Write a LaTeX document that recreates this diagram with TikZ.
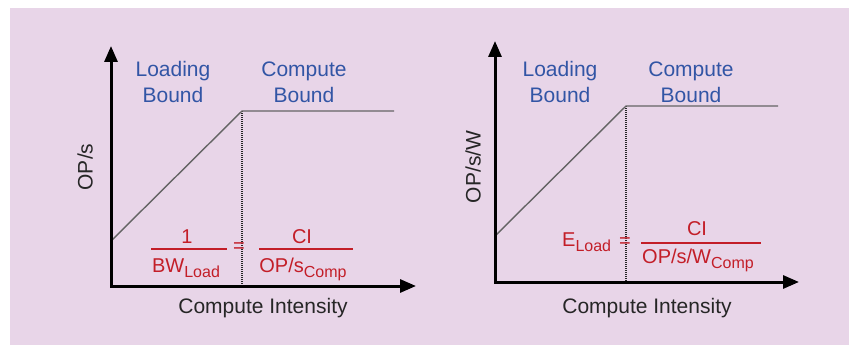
\documentclass[tikz,border=0pt]{standalone}
\usepackage{fontspec}
\setmainfont{Liberation Sans}
\usetikzlibrary{positioning,arrows.meta}
\definecolor{panelpink}{RGB}{232,213,232}
\definecolor{labelblue}{RGB}{50,85,165}
\definecolor{eqred}{RGB}{195,30,40}
\definecolor{curvegray}{RGB}{100,100,100}
\newcommand{\subtxt}[1]{\raisebox{-5pt}{\fontsize{16}{16}\selectfont #1}}

\begin{document}
\begin{tikzpicture}[
  x=1pt, y=-1pt,
  font=\fontsize{21}{26}\selectfont,
  axis/.style={line width=3pt, {Triangle[length=16pt,width=13pt]}-{Triangle[length=16pt,width=13pt]}},
  roof/.style={line width=1.4pt, curvegray},
  ridge/.style={dash pattern=on 1pt off 1pt, line width=1.3pt, black!85},
  region/.style={text=labelblue, align=center, inner sep=0pt},
  axlabel/.style={text=black!85, inner sep=0pt},
  eq/.style={text=eqred, font=\fontsize{20}{22}\selectfont, inner sep=0pt},
  bar/.style={eqred, line width=1.5pt},
]
% Frame
\useasboundingbox (0,0) rectangle (849,345);
\fill[panelpink] (10,8) rectangle (849,345);

% Left chart: OP/s
\coordinate (yt1) at (111,46);
\coordinate (o1) at (111,286);
\coordinate (xt1) at (416,286);
\coordinate (r1) at (111,241);
\coordinate (knee1) at (242,111);
\coordinate (flat1) at (394,111);
\coordinate (foot1) at (242,286);
\draw[ridge] (knee1) -- (foot1);
\draw[roof] (r1) -- (knee1) -- (flat1);
\draw[axis] (yt1) -- (o1) -- (xt1);

\node[region] (load1) at (173,82) {Loading\\Bound};
\node[region] (comp1) at (304,82) {Compute\\Bound};
\node[axlabel, rotate=90] (ylab1) at (85,167) {OP/s};
\node[axlabel] (xlab1) at (263,308) {Compute Intensity};

\node[eq, anchor=base] (one1) at (187,243) {1};
\coordinate (bl1) at (151,249);
\coordinate (br1) at (227,249);
\draw[bar] (bl1) -- (br1);
\node[eq, anchor=base] (bw1) at (186,272) {BW\subtxt{Load}};
\node[eq] (eqs1) at (239,248) {=};
\node[eq, anchor=base] (ci1) at (302,243) {CI};
\coordinate (cl1) at (259,249);
\coordinate (cr1) at (353,249);
\draw[bar] (cl1) -- (cr1);
\node[eq, anchor=base] (ops1) at (303,272) {OP/s\subtxt{Comp}};

% Right chart: OP/s/W
\coordinate (yt2) at (495,41);
\coordinate (o2) at (495,282);
\coordinate (xt2) at (799,282);
\coordinate (r2) at (495,236);
\coordinate (knee2) at (626,106);
\coordinate (flat2) at (778,106);
\coordinate (foot2) at (626,282);
\draw[ridge] (knee2) -- (foot2);
\draw[roof] (r2) -- (knee2) -- (flat2);
\draw[axis] (yt2) -- (o2) -- (xt2);

\node[region] (load2) at (560,82) {Loading\\Bound};
\node[region] (comp2) at (691,82) {Compute\\Bound};
\node[axlabel, rotate=90] (ylab2) at (473,167) {OP/s/W};
\node[axlabel] (xlab2) at (647,308) {Compute Intensity};

\node[eq, anchor=base west] (eld2) at (562,246) {E\subtxt{Load}};
\node[eq] (eqs2) at (625,243) {=};
\node[eq, anchor=base] (ci2) at (697,235) {CI};
\coordinate (cl2) at (641,243);
\coordinate (cr2) at (761,243);
\draw[bar] (cl2) -- (cr2);
\node[eq, anchor=base] (opw2) at (698,263) {OP/s/W\subtxt{Comp}};
\end{tikzpicture}
\end{document}
